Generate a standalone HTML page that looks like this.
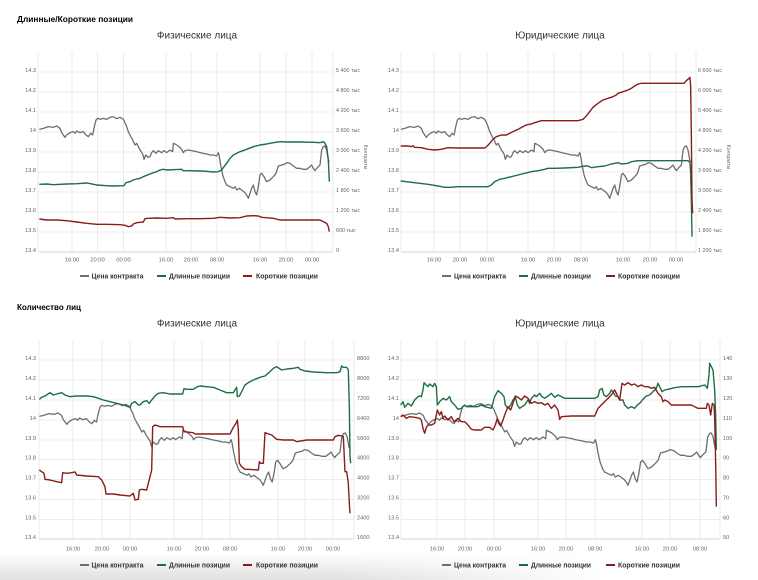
<!DOCTYPE html>
<html><head><meta charset="utf-8">
<style>
html,body{margin:0;padding:0;background:#fff;}
body{width:758px;height:580px;overflow:hidden;position:relative;font-family:"Liberation Sans",sans-serif;}
svg{position:absolute;left:0;top:0;}
.shade{position:absolute;left:0;top:552px;width:758px;height:28px;background:linear-gradient(to bottom,rgba(0,0,0,0),rgba(0,0,0,0.12));-webkit-mask-image:linear-gradient(to right,#000 0%,#000 45%,transparent 80%);mask-image:linear-gradient(to right,#000 0%,#000 45%,transparent 80%);}
</style></head><body>
<div class="shade"></div>
<svg width="758" height="580" viewBox="0 0 758 580" xmlns="http://www.w3.org/2000/svg" font-family="Liberation Sans, sans-serif">

<!-- Headings -->
<text x="17" y="22" font-size="8.5" font-weight="bold" fill="#000" textLength="116" lengthAdjust="spacingAndGlyphs">Длинные/Короткие позиции</text>
<text x="17" y="310" font-size="8.5" font-weight="bold" fill="#000" textLength="64" lengthAdjust="spacingAndGlyphs">Количество лиц</text>

<!-- ============ CHART 1 ============ -->
<g>
<text x="197" y="38.5" font-size="10" fill="#333" text-anchor="middle">Физические лица</text>
<g stroke="#e6e6e6" stroke-width="0.8">
<line x1="38" y1="72" x2="333" y2="72"/><line x1="38" y1="92" x2="333" y2="92"/><line x1="38" y1="112" x2="333" y2="112"/><line x1="38" y1="132" x2="333" y2="132"/><line x1="38" y1="152" x2="333" y2="152"/><line x1="38" y1="172" x2="333" y2="172"/><line x1="38" y1="192" x2="333" y2="192"/><line x1="38" y1="212" x2="333" y2="212"/><line x1="38" y1="232" x2="333" y2="232"/>
<line x1="38" y1="52" x2="38" y2="252"/><line x1="72" y1="52" x2="72" y2="252"/><line x1="97.5" y1="52" x2="97.5" y2="252"/><line x1="123.5" y1="52" x2="123.5" y2="252"/><line x1="166" y1="52" x2="166" y2="252"/><line x1="191" y1="52" x2="191" y2="252"/><line x1="217" y1="52" x2="217" y2="252"/><line x1="260" y1="52" x2="260" y2="252"/><line x1="286" y1="52" x2="286" y2="252"/><line x1="312" y1="52" x2="312" y2="252"/><line x1="333" y1="52" x2="333" y2="252"/>
</g>
<line x1="38" y1="252" x2="333" y2="252" stroke="#ccd6eb" stroke-width="1"/>
<g font-size="5.6" fill="#666" text-anchor="end">
<text x="36" y="72">14.3</text><text x="36" y="92">14.2</text><text x="36" y="112">14.1</text><text x="36" y="132">14</text><text x="36" y="152">13.9</text><text x="36" y="172">13.8</text><text x="36" y="192">13.7</text><text x="36" y="212">13.6</text><text x="36" y="232">13.5</text><text x="36" y="252">13.4</text>
</g>
<g font-size="5.4" fill="#666">
<text x="336" y="72">5 400 тыс</text><text x="336" y="92">4 800 тыс</text><text x="336" y="112">4 200 тыс</text><text x="336" y="132">3 600 тыс</text><text x="336" y="152">3 000 тыс</text><text x="336" y="172">2 400 тыс</text><text x="336" y="192">1 800 тыс</text><text x="336" y="212">1 200 тыс</text><text x="336" y="232">600 тыс</text><text x="336" y="252">0</text>
</g>
<text x="0" y="0" font-size="5" fill="#666" text-anchor="middle" transform="translate(364,157) rotate(90)">Контракты</text>
<g font-size="5.8" fill="#666" text-anchor="middle">
<text x="72" y="261.5">16:00</text><text x="97.5" y="261.5">20:00</text><text x="123.5" y="261.5">00:00</text><text x="166" y="261.5">16:00</text><text x="191" y="261.5">20:00</text><text x="217" y="261.5">08:00</text><text x="260" y="261.5">16:00</text><text x="286" y="261.5">20:00</text><text x="312" y="261.5">00:00</text>
</g>
<g transform="matrix(0.33333,0,0,0.33333,0,0)" fill="none" stroke-linejoin="round">
<polyline vector-effect="non-scaling-stroke" stroke="#6e6e6e" stroke-width="1.3" points="118,388 130,385 145,380 160,382 170,378 180,385 185,398 195,412 200,405 210,398 220,395 225,400 230,393 240,398 250,395 258,405 265,410 272,400 278,405 283,380 288,360 293,355 300,358 310,355 320,358 330,352 340,350 350,356 360,352 370,358 375,368 380,380 385,395 390,405 398,420 405,435 410,430 415,440 420,450 428,462 432,478 437,465 445,472 450,470 455,458 460,452 468,460 475,452 485,458 492,452 500,458 510,450 518,455 520,430 525,432 535,438 545,448 550,458 555,452 565,450 575,452 590,455 600,458 610,460 620,462 630,465 640,465 650,468 655,458 658,470 662,495 668,525 675,545 680,555 690,560 700,565 705,560 710,570 718,565 725,570 735,578 740,585 745,595 750,580 755,565 760,555 765,575 770,585 775,560 780,525 785,520 792,530 800,545 810,540 820,530 828,520 835,498 845,495 855,492 860,488 870,490 880,498 890,505 900,505 910,508 920,508 930,500 935,495 940,505 945,512 950,505 955,500 960,495 965,450 970,440 975,438 980,450 985,480 988,485"/>
<polyline vector-effect="non-scaling-stroke" stroke="#1e6e43" stroke-width="1.4" points="118,553 140,552 160,554 200,552 230,551 260,549 290,555 320,557 340,558 372,557 378,548 390,545 400,540 410,537 420,535 430,530 440,526 450,522 460,518 470,515 480,510 490,508 500,510 520,509 545,508 550,512 570,512 600,513 620,514 640,516 655,515 665,510 672,500 680,490 690,475 700,465 720,455 740,448 760,440 780,435 800,432 820,428 840,425 860,426 900,426 940,427 960,428 970,425 975,430 980,440 985,480 988,545"/>
<polyline vector-effect="non-scaling-stroke" stroke="#8a1c1c" stroke-width="1.4" points="118,657 140,660 170,660 200,662 230,666 260,670 290,673 320,673 360,674 375,676 385,680 395,678 400,672 410,668 430,666 435,656 445,655 470,654 500,655 520,653 525,657 560,656 600,656 640,655 660,652 690,654 720,653 740,648 760,647 775,648 785,652 820,655 840,660 900,660 940,660 960,660 970,665 980,670 985,680 988,695"/>
</g>
<g font-size="7" font-weight="bold" fill="#333">
<line x1="80" y1="276" x2="89" y2="276" stroke="#6e6e6e" stroke-width="2"/><text x="91.5" y="278.5" textLength="52" lengthAdjust="spacingAndGlyphs">Цена контракта</text>
<line x1="157" y1="276" x2="166" y2="276" stroke="#1e6e43" stroke-width="2"/><text x="169" y="278.5" textLength="61" lengthAdjust="spacingAndGlyphs">Длинные позиции</text>
<line x1="243" y1="276" x2="252" y2="276" stroke="#8a1c1c" stroke-width="2"/><text x="256" y="278.5" textLength="62" lengthAdjust="spacingAndGlyphs">Короткие позиции</text>
</g>
</g>

<!-- ============ CHART 2 ============ -->
<g>
<text x="560" y="38.5" font-size="10" fill="#333" text-anchor="middle">Юридические лица</text>
<g stroke="#e6e6e6" stroke-width="0.8">
<line x1="401" y1="72" x2="696" y2="72"/><line x1="401" y1="92" x2="696" y2="92"/><line x1="401" y1="112" x2="696" y2="112"/><line x1="401" y1="132" x2="696" y2="132"/><line x1="401" y1="152" x2="696" y2="152"/><line x1="401" y1="172" x2="696" y2="172"/><line x1="401" y1="192" x2="696" y2="192"/><line x1="401" y1="212" x2="696" y2="212"/><line x1="401" y1="232" x2="696" y2="232"/>
<line x1="401" y1="52" x2="401" y2="252"/><line x1="434" y1="52" x2="434" y2="252"/><line x1="460" y1="52" x2="460" y2="252"/><line x1="487" y1="52" x2="487" y2="252"/><line x1="528" y1="52" x2="528" y2="252"/><line x1="554" y1="52" x2="554" y2="252"/><line x1="581" y1="52" x2="581" y2="252"/><line x1="623" y1="52" x2="623" y2="252"/><line x1="650" y1="52" x2="650" y2="252"/><line x1="676" y1="52" x2="676" y2="252"/><line x1="696" y1="52" x2="696" y2="252"/>
</g>
<line x1="401" y1="252" x2="696" y2="252" stroke="#ccd6eb" stroke-width="1"/>
<g font-size="5.6" fill="#666" text-anchor="end">
<text x="399" y="72">14.3</text><text x="399" y="92">14.2</text><text x="399" y="112">14.1</text><text x="399" y="132">14</text><text x="399" y="152">13.9</text><text x="399" y="172">13.8</text><text x="399" y="192">13.7</text><text x="399" y="212">13.6</text><text x="399" y="232">13.5</text><text x="399" y="252">13.4</text>
</g>
<g font-size="5.4" fill="#666">
<text x="698" y="72">6 600 тыс</text><text x="698" y="92">6 000 тыс</text><text x="698" y="112">5 400 тыс</text><text x="698" y="132">4 800 тыс</text><text x="698" y="152">4 200 тыс</text><text x="698" y="172">3 600 тыс</text><text x="698" y="192">3 000 тыс</text><text x="698" y="212">2 400 тыс</text><text x="698" y="232">1 800 тыс</text><text x="698" y="252">1 200 тыс</text>
</g>
<text x="0" y="0" font-size="5" fill="#666" text-anchor="middle" transform="translate(727,157) rotate(90)">Контракты</text>
<g font-size="5.8" fill="#666" text-anchor="middle">
<text x="434" y="261.5">16:00</text><text x="460" y="261.5">20:00</text><text x="487" y="261.5">00:00</text><text x="528" y="261.5">16:00</text><text x="554" y="261.5">20:00</text><text x="581" y="261.5">08:00</text><text x="623" y="261.5">16:00</text><text x="650" y="261.5">20:00</text><text x="676" y="261.5">00:00</text>
</g>
<g transform="matrix(0.33333,0,0,0.33333,361.4,0)" fill="none" stroke-linejoin="round">
<polyline vector-effect="non-scaling-stroke" stroke="#6e6e6e" stroke-width="1.3" points="118,388 130,385 145,380 160,382 170,378 180,385 185,398 195,412 200,405 210,398 220,395 225,400 230,393 240,398 250,395 258,405 265,410 272,400 278,405 283,380 288,360 293,355 300,358 310,355 320,358 330,352 340,350 350,356 360,352 370,358 375,368 380,380 385,395 390,405 398,420 405,435 410,430 415,440 420,450 428,462 432,478 437,465 445,472 450,470 455,458 460,452 468,460 475,452 485,458 492,452 500,458 510,450 518,455 520,430 525,432 535,438 545,448 550,458 555,452 565,450 575,452 590,455 600,458 610,460 620,462 630,465 640,465 650,468 655,458 658,470 662,495 668,525 675,545 680,555 690,560 700,565 705,560 710,570 718,565 725,570 735,578 740,585 745,595 750,580 755,565 760,555 765,575 770,585 775,560 780,525 785,520 792,530 800,545 810,540 820,530 828,520 835,498 845,495 855,492 860,488 870,490 880,498 890,505 900,505 910,508 920,508 930,500 935,495 940,505 945,512 950,505 955,500 960,495 965,450 970,440 975,438 980,450 985,480 988,485"/>
</g>
<g transform="translate(378,0) scale(0.33333)" fill="none" stroke-width="1.4" stroke-linejoin="round">
<polyline vector-effect="non-scaling-stroke" stroke="#1e6e43" points="68,543 100,547 150,553 180,558 200,562 220,562 240,560 330,560 340,555 350,545 365,538 380,535 400,530 420,525 440,520 460,515 480,512 500,508 510,505 530,505 560,504 600,502 620,498 630,498 640,503 660,500 680,498 700,492 720,488 730,492 750,490 760,485 780,482 930,482 936,488 938,520 940,600 942,710"/>
<polyline vector-effect="non-scaling-stroke" stroke="#8a1c1c" points="68,438 90,438 100,440 105,437 110,442 130,443 150,448 170,450 190,448 210,443 240,444 280,444 320,444 328,438 335,430 345,418 355,410 370,405 385,405 395,400 405,395 420,388 435,380 445,375 460,372 470,368 480,365 490,362 500,362 560,362 600,362 615,358 625,348 635,335 645,322 660,310 675,300 690,295 705,290 715,285 720,280 735,275 750,270 760,265 770,258 780,252 790,250 918,250 925,242 932,236 936,232 938,260 940,400 942,600 944,640"/>
</g>
<g font-size="7" font-weight="bold" fill="#333">
<line x1="442" y1="276" x2="451" y2="276" stroke="#6e6e6e" stroke-width="2"/><text x="454" y="278.5" textLength="52" lengthAdjust="spacingAndGlyphs">Цена контракта</text>
<line x1="519" y1="276" x2="528" y2="276" stroke="#1e6e43" stroke-width="2"/><text x="531" y="278.5" textLength="60" lengthAdjust="spacingAndGlyphs">Длинные позиции</text>
<line x1="606" y1="276" x2="615" y2="276" stroke="#8a1c1c" stroke-width="2"/><text x="618" y="278.5" textLength="62" lengthAdjust="spacingAndGlyphs">Короткие позиции</text>
</g>
</g>

<!-- ============ CHART 3 ============ -->
<g>
<text x="197" y="326.5" font-size="10" fill="#333" text-anchor="middle">Физические лица</text>
<g stroke="#e6e6e6" stroke-width="0.8">
<line x1="39" y1="360" x2="354" y2="360"/><line x1="39" y1="380" x2="354" y2="380"/><line x1="39" y1="400" x2="354" y2="400"/><line x1="39" y1="420" x2="354" y2="420"/><line x1="39" y1="440" x2="354" y2="440"/><line x1="39" y1="459.5" x2="354" y2="459.5"/><line x1="39" y1="479.5" x2="354" y2="479.5"/><line x1="39" y1="499.5" x2="354" y2="499.5"/><line x1="39" y1="519.5" x2="354" y2="519.5"/>
<line x1="39" y1="340" x2="39" y2="539"/><line x1="73" y1="340" x2="73" y2="539"/><line x1="102" y1="340" x2="102" y2="539"/><line x1="130" y1="340" x2="130" y2="539"/><line x1="174" y1="340" x2="174" y2="539"/><line x1="202" y1="340" x2="202" y2="539"/><line x1="230" y1="340" x2="230" y2="539"/><line x1="278" y1="340" x2="278" y2="539"/><line x1="305" y1="340" x2="305" y2="539"/><line x1="333" y1="340" x2="333" y2="539"/><line x1="354" y1="340" x2="354" y2="539"/>
</g>
<line x1="39" y1="539" x2="354" y2="539" stroke="#ccd6eb" stroke-width="1"/>
<g font-size="5.6" fill="#666" text-anchor="end">
<text x="36" y="360">14.3</text><text x="36" y="380">14.2</text><text x="36" y="400">14.1</text><text x="36" y="420">14</text><text x="36" y="440">13.9</text><text x="36" y="459.5">13.8</text><text x="36" y="479.5">13.7</text><text x="36" y="499.5">13.6</text><text x="36" y="519.5">13.5</text><text x="36" y="539">13.4</text>
</g>
<g font-size="5.6" fill="#666">
<text x="357" y="360">8800</text><text x="357" y="380">8000</text><text x="357" y="400">7200</text><text x="357" y="420">6400</text><text x="357" y="440">5600</text><text x="357" y="459.5">4800</text><text x="357" y="479.5">4000</text><text x="357" y="499.5">3200</text><text x="357" y="519.5">2400</text><text x="357" y="539">1600</text>
</g>
<g font-size="5.8" fill="#666" text-anchor="middle">
<text x="73" y="550.5">16:00</text><text x="102" y="550.5">20:00</text><text x="130" y="550.5">00:00</text><text x="174" y="550.5">16:00</text><text x="202" y="550.5">20:00</text><text x="230" y="550.5">08:00</text><text x="278" y="550.5">16:00</text><text x="305" y="550.5">20:00</text><text x="333" y="550.5">00:00</text>
</g>
<g transform="matrix(0.35713,0,0,0.33333,-2.81,287)" fill="none" stroke-linejoin="round">
<polyline vector-effect="non-scaling-stroke" stroke="#6e6e6e" stroke-width="1.3" points="118,388 130,385 145,380 160,382 170,378 180,385 185,398 195,412 200,405 210,398 220,395 225,400 230,393 240,398 250,395 258,405 265,410 272,400 278,405 283,380 288,360 293,355 300,358 310,355 320,358 330,352 340,350 350,356 360,352 370,358 375,368 380,380 385,395 390,405 398,420 405,435 410,430 415,440 420,450 428,462 432,478 437,465 445,472 450,470 455,458 460,452 468,460 475,452 485,458 492,452 500,458 510,450 518,455 520,430 525,432 535,438 545,448 550,458 555,452 565,450 575,452 590,455 600,458 610,460 620,462 630,465 640,465 650,468 655,458 658,470 662,495 668,525 675,545 680,555 690,560 700,565 705,560 710,570 718,565 725,570 735,578 740,585 745,595 750,580 755,565 760,555 765,575 770,585 775,560 780,525 785,520 792,530 800,545 810,540 820,530 828,520 835,498 845,495 855,492 860,488 870,490 880,498 890,505 900,505 910,508 920,508 930,500 935,495 940,505 945,512 950,505 955,500 960,495 965,450 970,440 975,438 980,450 985,480 988,485"/>
</g>
<g transform="translate(0,290) scale(0.33333)" fill="none" stroke-width="1.4" stroke-linejoin="round">
<polyline vector-effect="non-scaling-stroke" stroke="#1e6e43" points="118,328 125,322 135,318 150,308 160,315 170,312 185,308 195,315 210,320 230,318 260,318 280,320 295,325 310,330 330,335 350,340 370,345 390,352 395,340 405,335 415,345 420,345 430,335 440,332 448,340 455,330 465,318 475,310 490,308 510,312 520,312 548,312 552,296 560,298 580,298 592,290 600,288 620,290 640,292 660,300 680,308 700,308 705,300 710,292 712,320 718,318 725,305 735,285 745,278 760,270 780,262 795,258 810,245 820,235 830,230 845,240 860,237 880,235 895,232 900,238 915,243 940,246 980,248 1010,248 1020,245 1025,228 1030,232 1040,232 1045,240 1048,350 1050,500 1052,520"/>
<polyline vector-effect="non-scaling-stroke" stroke="#8a1c1c" points="118,540 125,545 132,550 135,568 150,570 170,575 185,578 188,548 200,550 215,548 225,546 230,555 260,558 295,560 305,570 315,590 318,612 340,612 360,615 390,618 400,610 405,630 415,628 418,600 425,598 440,600 450,560 455,540 458,410 465,405 480,410 500,410 540,410 548,410 552,425 580,428 585,432 620,432 660,432 690,432 700,412 708,400 712,390 715,420 718,520 725,530 735,538 745,538 775,540 778,515 782,520 790,520 795,428 800,430 815,435 830,448 850,450 880,450 890,455 920,450 950,450 1000,450 1005,440 1015,436 1025,438 1030,440 1035,545 1040,545 1045,580 1048,640 1050,670"/>
</g>
<g font-size="7" font-weight="bold" fill="#333">
<line x1="80" y1="565" x2="89" y2="565" stroke="#6e6e6e" stroke-width="2"/><text x="91.5" y="567.5" textLength="52" lengthAdjust="spacingAndGlyphs">Цена контракта</text>
<line x1="157" y1="565" x2="166" y2="565" stroke="#1e6e43" stroke-width="2"/><text x="169" y="567.5" textLength="61" lengthAdjust="spacingAndGlyphs">Длинные позиции</text>
<line x1="243" y1="565" x2="252" y2="565" stroke="#8a1c1c" stroke-width="2"/><text x="256" y="567.5" textLength="62" lengthAdjust="spacingAndGlyphs">Короткие позиции</text>
</g>
</g>

<!-- ============ CHART 4 ============ -->
<g>
<text x="560" y="326.5" font-size="10" fill="#333" text-anchor="middle">Юридические лица</text>
<g stroke="#e6e6e6" stroke-width="0.8">
<line x1="401" y1="360" x2="720" y2="360"/><line x1="401" y1="380" x2="720" y2="380"/><line x1="401" y1="400" x2="720" y2="400"/><line x1="401" y1="420" x2="720" y2="420"/><line x1="401" y1="440" x2="720" y2="440"/><line x1="401" y1="459.5" x2="720" y2="459.5"/><line x1="401" y1="479.5" x2="720" y2="479.5"/><line x1="401" y1="499.5" x2="720" y2="499.5"/><line x1="401" y1="519.5" x2="720" y2="519.5"/>
<line x1="401" y1="340" x2="401" y2="539"/><line x1="437" y1="340" x2="437" y2="539"/><line x1="465" y1="340" x2="465" y2="539"/><line x1="494" y1="340" x2="494" y2="539"/><line x1="538" y1="340" x2="538" y2="539"/><line x1="566" y1="340" x2="566" y2="539"/><line x1="595" y1="340" x2="595" y2="539"/><line x1="642" y1="340" x2="642" y2="539"/><line x1="670" y1="340" x2="670" y2="539"/><line x1="700" y1="340" x2="700" y2="539"/><line x1="720" y1="340" x2="720" y2="539"/>
</g>
<line x1="401" y1="539" x2="720" y2="539" stroke="#ccd6eb" stroke-width="1"/>
<g font-size="5.6" fill="#666" text-anchor="end">
<text x="399" y="360">14.3</text><text x="399" y="380">14.2</text><text x="399" y="400">14.1</text><text x="399" y="420">14</text><text x="399" y="440">13.9</text><text x="399" y="459.5">13.8</text><text x="399" y="479.5">13.7</text><text x="399" y="499.5">13.6</text><text x="399" y="519.5">13.5</text><text x="399" y="539">13.4</text>
</g>
<g font-size="5.6" fill="#666">
<text x="723" y="360">140</text><text x="723" y="380">130</text><text x="723" y="400">120</text><text x="723" y="420">110</text><text x="723" y="440">100</text><text x="723" y="459.5">90</text><text x="723" y="479.5">80</text><text x="723" y="499.5">70</text><text x="723" y="519.5">60</text><text x="723" y="539">50</text>
</g>
<g font-size="5.8" fill="#666" text-anchor="middle">
<text x="437" y="550.5">16:00</text><text x="465" y="550.5">20:00</text><text x="494" y="550.5">00:00</text><text x="538" y="550.5">16:00</text><text x="566" y="550.5">20:00</text><text x="595" y="550.5">08:00</text><text x="642" y="550.5">16:00</text><text x="670" y="550.5">20:00</text><text x="700" y="550.5">08:00</text>
</g>
<g transform="matrix(0.3624,0,0,0.33333,357.97,287)" fill="none" stroke-linejoin="round">
<polyline vector-effect="non-scaling-stroke" stroke="#6e6e6e" stroke-width="1.3" points="118,388 130,385 145,380 160,382 170,378 180,385 185,398 195,412 200,405 210,398 220,395 225,400 230,393 240,398 250,395 258,405 265,410 272,400 278,405 283,380 288,360 293,355 300,358 310,355 320,358 330,352 340,350 350,356 360,352 370,358 375,368 380,380 385,395 390,405 398,420 405,435 410,430 415,440 420,450 428,462 432,478 437,465 445,472 450,470 455,458 460,452 468,460 475,452 485,458 492,452 500,458 510,450 518,455 520,430 525,432 535,438 545,448 550,458 555,452 565,450 575,452 590,455 600,458 610,460 620,462 630,465 640,465 650,468 655,458 658,470 662,495 668,525 675,545 680,555 690,560 700,565 705,560 710,570 718,565 725,570 735,578 740,585 745,595 750,580 755,565 760,555 765,575 770,585 775,560 780,525 785,520 792,530 800,545 810,540 820,530 828,520 835,498 845,495 855,492 860,488 870,490 880,498 890,505 900,505 910,508 920,508 930,500 935,495 940,505 945,512 950,505 955,500 960,495 965,450 970,440 975,438 980,450 985,480 988,485"/>
</g>
<g transform="translate(378,290) scale(0.33333)" fill="none" stroke-width="1.4" stroke-linejoin="round">
<polyline vector-effect="non-scaling-stroke" stroke="#1e6e43" points="68,345 75,335 80,352 90,340 100,348 110,330 120,320 125,318 130,320 135,300 138,278 145,285 150,290 155,282 165,290 170,280 175,290 178,345 185,335 195,325 205,330 215,320 220,335 230,345 240,358 250,355 260,345 265,350 280,350 300,350 310,345 320,350 340,355 350,320 360,302 370,310 378,320 382,345 390,355 398,345 405,330 412,320 418,345 425,355 432,350 440,345 450,330 455,340 460,325 470,315 475,320 485,310 492,320 500,325 510,318 520,310 530,322 540,315 550,320 560,325 650,325 660,320 665,300 672,295 678,315 685,320 695,310 700,300 705,305 712,318 720,320 725,330 735,330 740,345 750,355 760,350 770,355 778,345 785,340 795,328 805,318 815,315 825,305 835,295 840,280 845,290 852,305 860,300 870,298 890,293 910,290 960,290 980,285 988,295 993,255 995,220 1000,230 1005,240 1010,300 1013,380 1015,480"/>
<polyline vector-effect="non-scaling-stroke" stroke="#8a1c1c" points="68,380 75,375 85,385 95,380 110,382 125,385 130,390 135,415 140,430 145,412 150,405 160,405 170,400 178,360 185,375 190,365 195,385 200,378 210,390 220,380 228,395 240,385 250,395 260,395 270,405 280,418 290,420 310,420 320,412 335,412 345,420 352,405 358,385 362,400 368,408 375,390 380,375 390,350 398,360 405,340 412,318 420,322 430,330 440,318 450,325 460,340 470,335 480,340 490,338 500,345 510,340 520,355 530,345 540,360 545,388 550,380 580,378 650,378 660,355 670,345 680,335 690,325 700,315 710,300 720,320 725,330 732,280 740,285 750,278 760,285 770,282 780,290 790,285 800,290 810,290 820,295 830,292 840,310 850,320 855,335 860,330 870,335 880,345 940,345 960,355 985,355 988,340 993,345 998,375 1003,340 1008,345 1010,380 1013,520 1015,650"/>
</g>
<g font-size="7" font-weight="bold" fill="#333">
<line x1="442" y1="565" x2="451" y2="565" stroke="#6e6e6e" stroke-width="2"/><text x="454" y="567.5" textLength="52" lengthAdjust="spacingAndGlyphs">Цена контракта</text>
<line x1="519" y1="565" x2="528" y2="565" stroke="#1e6e43" stroke-width="2"/><text x="531" y="567.5" textLength="60" lengthAdjust="spacingAndGlyphs">Длинные позиции</text>
<line x1="606" y1="565" x2="615" y2="565" stroke="#8a1c1c" stroke-width="2"/><text x="618" y="567.5" textLength="62" lengthAdjust="spacingAndGlyphs">Короткие позиции</text>
</g>
</g>
</svg>
</body></html>
